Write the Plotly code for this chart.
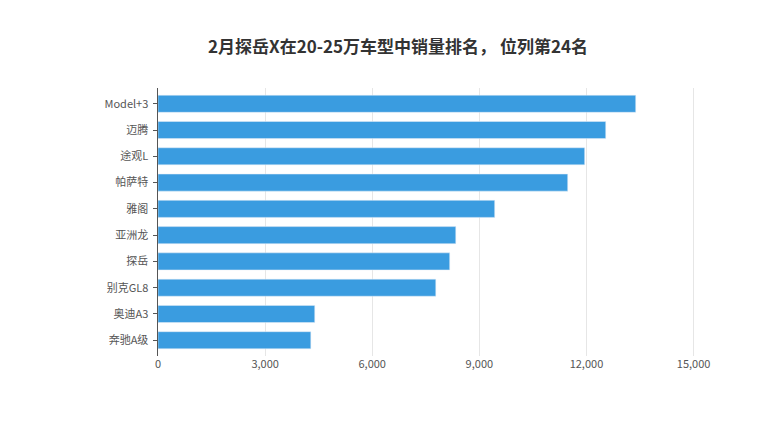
import plotly.graph_objects as go

models = ['Model+3', '迈腾', '途观L', '帕萨特', '雅阁', '亚洲龙', '探岳', '别克GL8', '奥迪A3', '奔驰A级']
sales = [13380, 12540, 11950, 11475, 9430, 8340, 8170, 7780, 4390, 4280]

fig = go.Figure(go.Bar(
    x=sales[::-1], y=models[::-1], orientation='h',
    marker=dict(color='#3a9ce0'), width=0.65,
))

fig.update_layout(
    title=dict(text='<b>2月探岳X在20-25万车型中销量排名， 位列第24名</b>', x=0.5, y=0.925,
               font=dict(size=17, color='#333', family='Noto Sans CJK SC')),
    width=780, height=440,
    margin=dict(l=150, r=73, t=80, b=92, autoexpand=False),
    paper_bgcolor='white', plot_bgcolor='white',
    font=dict(family='Noto Sans CJK SC', size=11, color='#555'),
    xaxis=dict(range=[0, 15600], tickvals=[0, 3000, 6000, 9000, 12000, 15000],
               tickformat=',', showgrid=True, gridcolor='#e6e6e6', zeroline=False,
               ticks='', ticklen=6, automargin=False),
    yaxis=dict(showline=True, linecolor='#555', ticks='outside', ticklen=4,
               tickcolor='#555', ticksuffix=' ', automargin=False,
               range=[-0.6, 9.6]),
    bargap=0.3, showlegend=False,
)

fig.write_html("out.html")
